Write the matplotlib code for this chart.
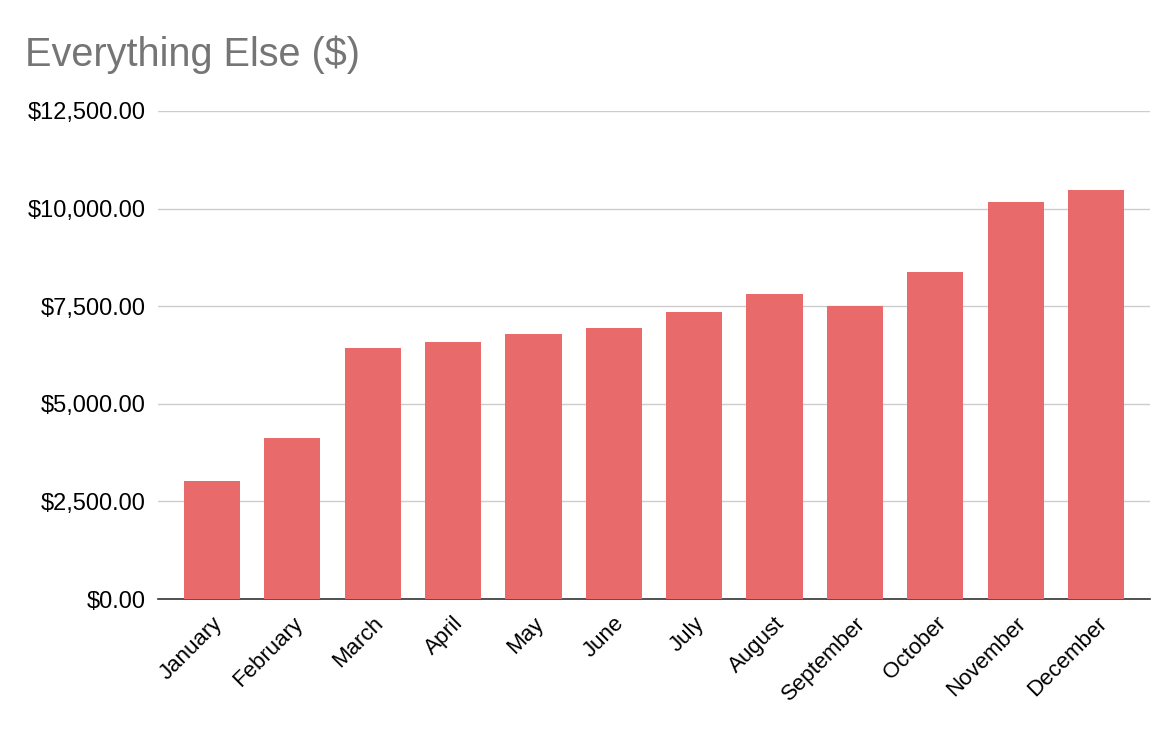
import matplotlib
matplotlib.use("Agg")
import matplotlib.pyplot as plt
from matplotlib.ticker import FuncFormatter

plt.rcParams['font.family'] = ['Liberation Sans', 'DejaVu Sans']

# data
months = ["January", "February", "March", "April", "May", "June", "July",
          "August", "September", "October", "November", "December"]
spend = [3030, 4120, 6430, 6580, 6790, 6940, 7350, 7810, 7500, 8380, 10170, 10480]
yticks = [0, 2500, 5000, 7500, 10000, 12500]

fig = plt.figure(figsize=(11.74, 7.3), dpi=100)
ax = fig.add_axes([158 / 1174, 1 - 599 / 730, (1150 - 158) / 1174, (599 - 111) / 730])

ax.bar(range(len(months)), spend, width=0.7, color='#e96a6a', zorder=3)

ax.set_xlim(-0.67, len(months) - 0.33)
ax.set_ylim(0, 12500)
ax.set_yticks(yticks)
ax.yaxis.set_major_formatter(FuncFormatter(lambda v, p: f"${v:,.2f}"))
ax.set_xticks(range(len(months)))
ax.set_xticklabels(months, rotation=45, ha='right', rotation_mode='anchor')

ax.grid(axis='y', color='#cccccc', linewidth=1, zorder=0)
for s in ['top', 'right', 'left']:
    ax.spines[s].set_visible(False)
ax.spines['bottom'].set_color('#333333')
ax.spines['bottom'].set_linewidth(1.2)
ax.tick_params(axis='y', length=0, labelsize=17, colors='black', pad=9)
ax.tick_params(axis='x', length=0, labelsize=16, colors='black', pad=10)

fig.text(25 / 1174, 1 - 66 / 730, "Everything Else ($)", fontsize=28.5,
         color='#757575', va='baseline', ha='left')

fig.savefig("out.png", dpi=100)
